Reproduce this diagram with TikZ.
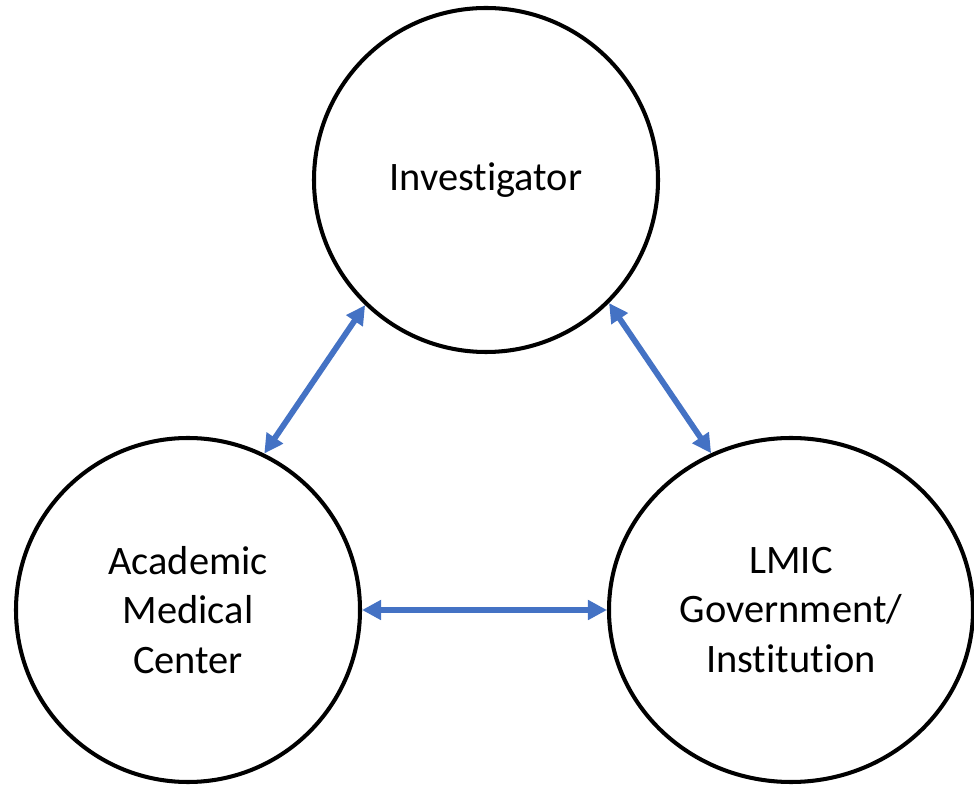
\documentclass[tikz,border=0pt]{standalone}
\usepackage{fontspec}
\setmainfont{Carlito}[Ligatures=NoCommon]
\usetikzlibrary{arrows.meta,shapes.geometric}
\definecolor{linkblue}{RGB}{68,114,196}

\begin{document}
\begin{tikzpicture}[
    party/.style={circle, draw, line width=2.3pt, minimum size=6.88cm, align=center, font=\fontsize{23}{28}\selectfont},
    link/.style={{Triangle[length=3.8mm,width=3.8mm]}-{Triangle[length=3.8mm,width=3.8mm]}, line width=3.3pt, linkblue}
]
\useasboundingbox (0,0) rectangle (19.48,15.7);

% The three partners
\node[party] (inv) at (9.72,12.1) {Investigator};
\node[party] (amc) at (3.76,3.5) {Academic\\Medical\\Center};
\node[party, ellipse, minimum width=7.28cm, minimum height=6.88cm] (lmic) at (15.82,3.5) {LMIC\\Government/\\Institution};

% Two-way links
\draw[link] (amc.64) -- (inv.226);
\draw[link] (inv.315) -- (lmic.117);
\draw[link] (amc.east) -- (lmic.west);
\end{tikzpicture}
\end{document}
